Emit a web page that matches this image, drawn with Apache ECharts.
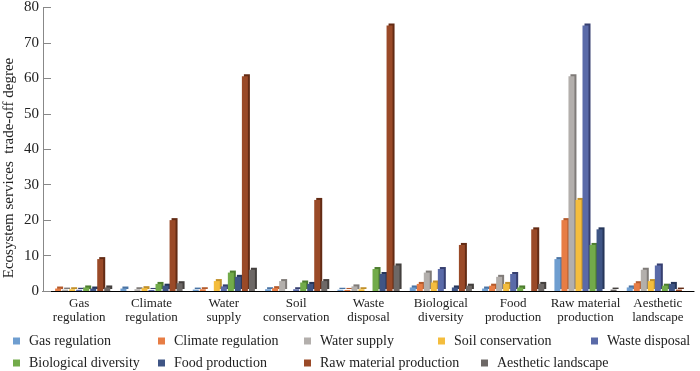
<!DOCTYPE html>
<html><head><meta charset="utf-8">
<script src="https://cdn.jsdelivr.net/npm/echarts@6/dist/echarts.min.js"></script>
<style>html,body{margin:0;padding:0;background:#fff}#c{width:700px;height:371px}</style>
</head><body><div id="c"></div>
<script>
const categories = ['Gas\nregulation','Climate\nregulation','Water\nsupply','Soil\nconservation','Waste\ndisposal','Biological\ndiversity','Food\nproduction','Raw material\nproduction','Aesthetic\nlandscape'];
const seriesNames = ['Gas regulation','Climate regulation','Water supply','Soil conservation','Waste disposal','Biological diversity','Food production','Raw material production','Aesthetic landscape'];
const gasRegulation      = [null, 0.7, 0.4, 0.5, 0.35, 1.0, 0.7, 9.0, 1.0];
const climateRegulation  = [0.7, null, 0.5, 0.8, 0.3, 2.0, 1.5, 20.0, 2.2];
const waterSupply        = [0.4, 0.5, null, 2.8, 1.3, 5.2, 4.0, 60.6, 6.0];
const soilConservation   = [0.5, 0.8, 2.8, null, 0.5, 2.4, 2.0, 25.7, 2.8];
const wasteDisposal      = [0.35, 0.3, 1.3, 0.5, null, 6.2, 4.8, 74.9, 7.2];
const biologicalDiversity= [1.0, 2.0, 5.2, 2.4, 6.2, null, 1.0, 13.0, 1.5];
const foodProduction     = [0.7, 1.5, 4.0, 2.0, 4.8, 1.0, null, 17.4, 2.0];
const rawMaterial        = [9.0, 20.0, 60.6, 25.7, 74.9, 13.0, 17.4, null, 0.4];
const aestheticLandscape = [1.0, 2.2, 6.0, 2.8, 7.2, 1.5, 2.0, 0.4, null];
const yTicks = [0,10,20,30,40,50,60,70,80];
const yTitle = 'Ecosystem services  trade-off degree';

const allData = [gasRegulation, climateRegulation, waterSupply, soilConservation, wasteDisposal, biologicalDiversity, foodProduction, rawMaterial, aestheticLandscape];
const colors = ['#6f9ed0','#e77d45','#b3afac','#f4bd3d','#5a6aa8','#72ab4a','#3f5585','#9a4a28','#6d6866'];
const sideColors = ['#4a73a3','#b35a2c','#7f7b78','#c1902a','#363f70','#4d7d2f','#26365a','#632b14','#44403e'];
const font = 'Liberation Serif';

const legendPos = [
  [13,334],[158,334],[304,334],[438,334],[591,334],
  [13,356],[158,356],[304,356],[481,356]
];
const legends = seriesNames.map((n,i)=>({
  data:[n], left:legendPos[i][0], top:legendPos[i][1], padding:0,
  itemWidth:7, itemHeight:7, itemGap:0, icon:'rect',
  textStyle:{fontFamily:font, fontSize:14, color:'#222', padding:[0,0,0,4]}
}));

const chart = echarts.init(document.getElementById('c'));
chart.setOption({
  animation:false,
  backgroundColor:'#fff',
  legend: legends,
  graphic:[{
    type:'text', x:9, y:168, rotation:Math.PI/2,
    style:{text:yTitle, fontFamily:font, fontSize:15, fill:'#222', align:'center', verticalAlign:'middle'}
  }],
  grid:{left:43, right:6, top:5, bottom:80, containLabel:false},
  xAxis:{
    type:'category', data:categories,
    axisLine:{lineStyle:{color:'#000', width:1.2}},
    axisTick:{show:false},
    axisLabel:{fontFamily:font, fontSize:13, color:'#222', lineHeight:14, margin:6, interval:0}
  },
  yAxis:{
    type:'value', min:0, max:80, interval:10,
    axisLine:{show:true, lineStyle:{color:'#888'}},
    axisTick:{show:true, inside:true, length:8, lineStyle:{color:'#888'}},
    axisLabel:{fontFamily:font, fontSize:15, color:'#222', margin:4,
      formatter:v=>yTicks.includes(v)?String(v):''},
    splitLine:{show:false}
  },
  series: seriesNames.map((n,i)=>({
    name:n, type:'bar', data:allData[i], barWidth:6, barGap:'17%',
    itemStyle:{color:colors[i], shadowColor:sideColors[i], shadowOffsetX:2, shadowOffsetY:-2, shadowBlur:0}
  }))
});
</script></body></html>
